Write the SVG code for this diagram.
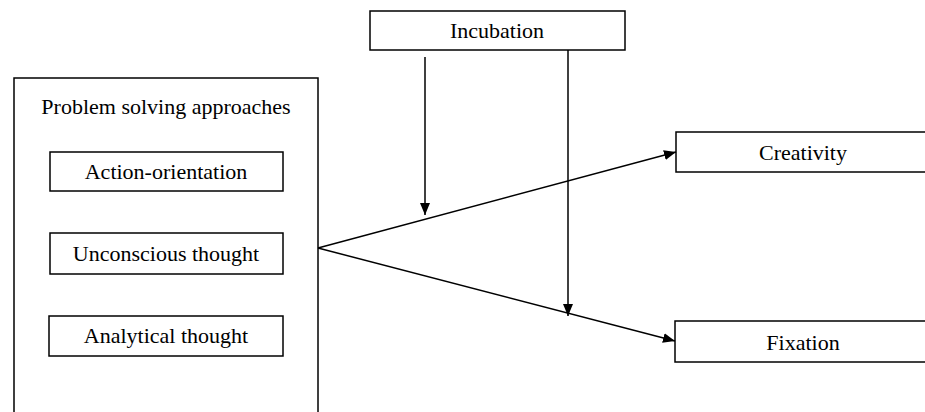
<svg xmlns="http://www.w3.org/2000/svg" width="925" height="412" viewBox="0 0 925 412">
<style>
.box{fill:#fff;stroke:#000;stroke-width:1.5}
.t{font-family:"Liberation Serif","Times New Roman",serif;font-size:22px;fill:#000;text-anchor:middle}
.c{stroke:#000;stroke-width:1.5;fill:none}
</style>
<defs>
<marker id="ah" viewBox="0 0 12 10" refX="12" refY="5" markerWidth="12" markerHeight="10" markerUnits="userSpaceOnUse" orient="auto">
<path d="M0,0 L12,5 L0,10 Z" fill="#000"/>
</marker>
</defs>
<rect width="925" height="412" fill="#fff"/>
<g id="problem-solving">
<rect class="box" x="14" y="78" width="304" height="340"/>
<text class="t" x="166" y="114">Problem solving approaches</text>
</g>
<g id="action-orientation">
<rect class="box" x="50" y="152" width="233" height="39"/>
<text class="t" x="166" y="179">Action-orientation</text>
</g>
<g id="unconscious-thought">
<rect class="box" x="50" y="233" width="233" height="41"/>
<text class="t" x="166" y="261">Unconscious thought</text>
</g>
<g id="analytical-thought">
<rect class="box" x="49" y="316" width="234" height="40"/>
<text class="t" x="166" y="343">Analytical thought</text>
</g>
<g id="incubation">
<rect class="box" x="370" y="11" width="255" height="39"/>
<text class="t" x="497" y="38">Incubation</text>
</g>
<g id="creativity">
<rect class="box" x="676" y="132" width="260" height="40"/>
<text class="t" x="803" y="160">Creativity</text>
</g>
<g id="fixation">
<rect class="box" x="675" y="321" width="260" height="41"/>
<text class="t" x="803" y="350">Fixation</text>
</g>
<g id="connectors">
<line class="c" x1="318" y1="248" x2="676" y2="152" marker-end="url(#ah)"/>
<line class="c" x1="318" y1="248" x2="675" y2="341" marker-end="url(#ah)"/>
<line class="c" x1="425" y1="57" x2="425" y2="215" marker-end="url(#ah)"/>
<line class="c" x1="568" y1="50" x2="568" y2="316" marker-end="url(#ah)"/>
</g>
</svg>
